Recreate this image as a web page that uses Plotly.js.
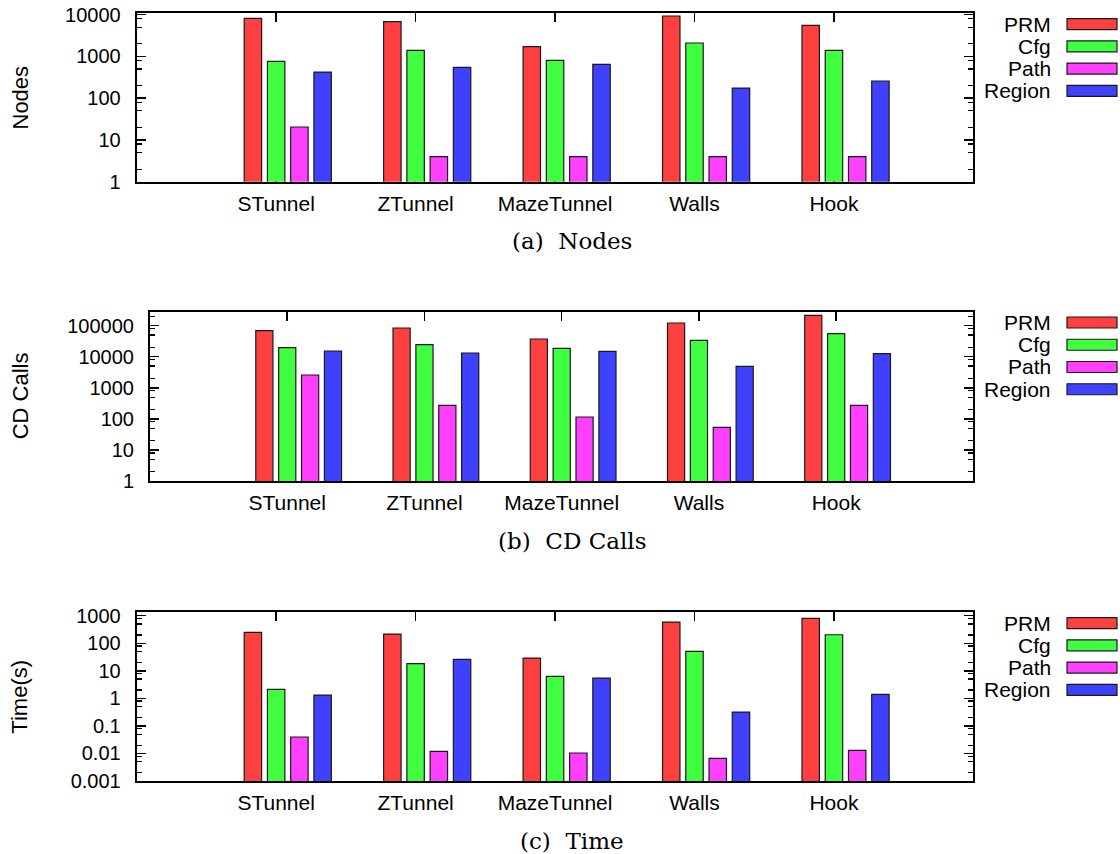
<!DOCTYPE html>
<html>
<head>
<meta charset="utf-8">
<script src="https://cdn.plot.ly/plotly-3.0.1.min.js"></script>
<style>html,body{margin:0;padding:0;background:#fff;}#chart{width:1120px;height:854px;}</style>
</head>
<body>
<div id="chart"></div>
<script>
// ---- data ----
const categories = ['STunnel', 'ZTunnel', 'MazeTunnel', 'Walls', 'Hook'];
const seriesNames = ['PRM', 'Cfg', 'Path', 'Region'];
const seriesColors = ['#ff4040', '#40ff40', '#ff40ff', '#4040ff'];

const nodesPRM = [8170, 6800, 1710, 9290, 5560];
const nodesCfg = [762, 1400, 806, 2100, 1400];
const nodesPath = [20.4, 4, 4, 4, 4];
const nodesRegion = [423, 548, 646, 175, 258];

const cdPRM = [69000, 84100, 37200, 121900, 215000];
const cdCfg = [19600, 24400, 18600, 33700, 55300];
const cdPath = [2580, 273, 115, 53.4, 273];
const cdRegion = [15300, 13200, 14900, 4910, 12560];

const timePRM = [248, 216, 29.1, 589, 800];
const timeCfg = [2.12, 18.1, 6.28, 50.7, 204];
const timePath = [0.0395, 0.0119, 0.0104, 0.00666, 0.013];
const timeRegion = [1.32, 26.0, 5.47, 0.319, 1.40];

const nodesTickVals = [1, 10, 100, 1000, 10000];
const nodesTickText = ['1', '10', '100', '1000', '10000'];
const cdTickVals = [1, 10, 100, 1000, 10000, 100000];
const cdTickText = ['1', '10', '100', '1000', '10000', '100000'];
const timeTickVals = [0.001, 0.01, 0.1, 1, 10, 100, 1000];
const timeTickText = ['0.001', '0.01', '0.1', '1', '10', '100', '1000'];

const yTitles = ['Nodes', 'CD Calls', 'Time(s)'];
const captions = ['(a)\u00a0\u00a0Nodes', '(b)\u00a0\u00a0CD Calls', '(c)\u00a0\u00a0Time'];

// ---- layout helpers ----
const W = 1120, H = 854;
const panels = [
  {vals: [nodesPRM, nodesCfg, nodesPath, nodesRegion], tv: nodesTickVals, tt: nodesTickText,
   left: 136.7, right: 973.4, top: 13.3, bottom: 181.7, range: [0, 4.033]},
  {vals: [cdPRM, cdCfg, cdPath, cdRegion], tv: cdTickVals, tt: cdTickText,
   left: 150.0, right: 973.4, top: 311.7, bottom: 481.0, range: [0, 5.45]},
  {vals: [timePRM, timeCfg, timePath, timeRegion], tv: timeTickVals, tt: timeTickText,
   left: 136.7, right: 973.4, top: 612.3, bottom: 781.0, range: [-3, 3.124]}
];
const barCenters = [-1/6, 0, 1/6, 1/3];
const barWidth = 0.125;
const px = v => v / W;
const py = v => 1 - v / H;

const traces = [];
const layout = {
  width: W, height: H,
  margin: {l: 0, r: 0, t: 0, b: 0},
  paper_bgcolor: '#ffffff', plot_bgcolor: '#ffffff',
  showlegend: false,
  barmode: 'overlay',
  font: {family: 'Liberation Sans, Arial, sans-serif', color: '#000'},
  annotations: [], shapes: []
};

panels.forEach((p, pi) => {
  const xa = pi === 0 ? 'x' : 'x' + (pi + 1);
  const ya = pi === 0 ? 'y' : 'y' + (pi + 1);
  const xKey = pi === 0 ? 'xaxis' : 'xaxis' + (pi + 1);
  const yKey = pi === 0 ? 'yaxis' : 'yaxis' + (pi + 1);

  p.vals.forEach((arr, si) => {
    traces.push({
      type: 'bar', x: categories, y: arr, xaxis: xa, yaxis: ya,
      name: seriesNames[si],
      width: barWidth, offset: barCenters[si] - barWidth / 2,
      marker: {color: seriesColors[si], line: {color: '#1a1a1a', width: 1.2}},
      hoverinfo: 'x+y'
    });
  });

  // minor log ticks
  const minorVals = [];
  p.tv.forEach(d => [2, 5, 8].forEach(m => minorVals.push(d * m)));

  layout[xKey] = {
    domain: [px(p.left), px(p.right)], anchor: ya,
    type: 'category', range: [-1, 5],
    showline: true, linewidth: 2, linecolor: '#000', mirror: 'ticks',
    ticks: 'inside', ticklen: 9, tickwidth: 1.5, tickcolor: '#000',
    tickfont: {size: 21, color: '#000'}, ticklabelstandoff: 2,
    showgrid: false, zeroline: false, layer: 'below traces', fixedrange: true
  };
  layout[yKey] = {
    domain: [py(p.bottom), py(p.top)], anchor: xa,
    type: 'log', range: p.range,
    tickmode: 'array', tickvals: p.tv, ticktext: p.tt,
    showline: true, linewidth: 2, linecolor: '#000', mirror: 'ticks',
    ticks: 'inside', ticklen: 9, tickwidth: 1.5, tickcolor: '#000',
    minor: {tickmode: 'array', tickvals: minorVals, ticks: 'inside', ticklen: 5, tickwidth: 1.2, tickcolor: '#000', showgrid: false},
    tickfont: {size: 20, color: '#000'}, ticklabelstandoff: 10,
    showgrid: false, zeroline: false, fixedrange: true
  };

  // y title
  layout.annotations.push({
    xref: 'paper', yref: 'paper', x: px(20), y: py((p.top + p.bottom) / 2),
    xanchor: 'center', yanchor: 'middle', textangle: -90, showarrow: false,
    text: yTitles[pi], font: {size: 22, color: '#000'}
  });
  // caption
  layout.annotations.push({
    xref: 'paper', yref: 'paper', x: px(572), y: py(p.bottom + 59.5),
    xanchor: 'center', yanchor: 'middle', showarrow: false,
    text: captions[pi], font: {size: 23, color: '#000', family: 'DejaVu Serif, Liberation Serif, serif'}
  });
  // legend (text right-aligned, key box to its right)
  seriesNames.forEach((nm, si) => {
    const cy = p.top + 10.8 + 22.25 * si;
    layout.annotations.push({
      xref: 'paper', yref: 'paper', x: px(1053), y: py(cy),
      xanchor: 'right', yanchor: 'middle', showarrow: false,
      text: nm, font: {size: 21, color: '#000'}
    });
    layout.shapes.push({
      type: 'rect', xref: 'paper', yref: 'paper',
      x0: px(1067), x1: px(1117), y0: py(cy - 5.5), y1: py(cy + 5.5),
      fillcolor: seriesColors[si], line: {color: '#1a1a1a', width: 1.2}
    });
  });
});

Plotly.newPlot('chart', traces, layout, {staticPlot: true, displayModeBar: false});
</script>
</body>
</html>
